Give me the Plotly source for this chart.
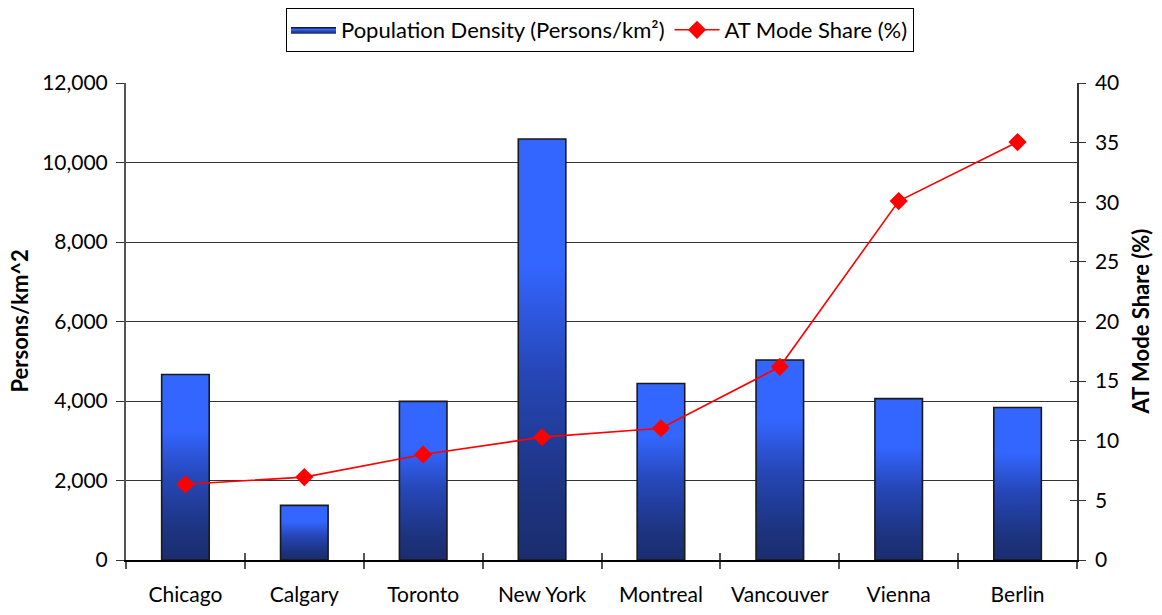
import plotly.graph_objects as go

cities = ["Chicago", "Calgary", "Toronto", "New York", "Montreal", "Vancouver", "Vienna", "Berlin"]
density = [4665, 1375, 3990, 10590, 4440, 5030, 4060, 3835]
at_share = [6.35, 6.95, 8.85, 10.3, 11.05, 16.2, 30.1, 35.05]
left_ticks = [0, 2000, 4000, 6000, 8000, 10000, 12000]
right_ticks = [0, 5, 10, 15, 20, 25, 30, 35, 40]

FONT = "Lato"
BAR_HALF = 0.2
grad = [[0.0, "#1A2D6E"], [0.15, "#1C337E"], [0.45, "#2647B8"], [0.7, "#3366FF"], [1.0, "#3366FF"]]

W, H = 1146, 599  # page body has an 8px margin on every side
ML, MR, MT, MB = 118, 77, 75, 47

fig = go.Figure()
idx = list(range(len(cities)))
for i, v in zip(idx, density):
    fig.add_trace(go.Scatter(
        x=[i - BAR_HALF, i - BAR_HALF, i + BAR_HALF, i + BAR_HALF, i - BAR_HALF],
        y=[0, v, v, 0, 0],
        mode="lines", fill="toself",
        fillgradient=dict(type="vertical", colorscale=grad),
        line=dict(color="#1a1a1a", width=1.6),
        name="Population Density (Persons/km²)",
        showlegend=(i == 0), legendgroup="pd", hoverinfo="skip",
        xaxis="x", yaxis="y",
    ))

fig.add_trace(go.Scatter(
    x=idx, y=at_share, mode="lines+markers",
    line=dict(color="#FF0000", width=1.6),
    marker=dict(symbol="diamond", size=14, color="#FF0000"),
    name="AT Mode Share (%)", xaxis="x", yaxis="y2",
))

plot_w = W - ML - MR
fig.update_layout(
    width=W, height=H,
    margin=dict(l=ML, r=MR, t=MT, b=MB, autoexpand=False),
    paper_bgcolor="white", plot_bgcolor="white",
    font=dict(family=FONT, size=21, color="black"),
    showlegend=True,
    legend=dict(orientation="h", xref="container", yref="container",
                x=592 / W, xanchor="center", y=1, yanchor="top",
                bordercolor="black", borderwidth=1, font=dict(size=22),
                itemwidth=45, tracegroupgap=0),
    xaxis=dict(range=[-0.5, len(cities) - 0.5], tickvals=idx, ticktext=cities,
               ticks="outside", ticklen=0, ticklabelstandoff=15,
               showgrid=False, zeroline=False, showline=True, linecolor="black", linewidth=1.5,
               automargin=False,
               minor=dict(tickvals=[k - 0.5 for k in range(len(cities) + 1)], ticks="outside",
                          ticklen=7, tickcolor="#555", tickwidth=1.5, showgrid=False)),
    xaxis2=dict(range=[-0.5, len(cities) - 0.5], overlaying="x", anchor="y", side="bottom",
                tickvals=[k - 0.5 for k in range(len(cities) + 1)], ticks="inside", ticklen=7,
                tickcolor="#555", tickwidth=1.5, showticklabels=False, showgrid=False,
                zeroline=False, showline=False, automargin=False),
    yaxis=dict(range=[0, 12000], tickvals=left_ticks, tickformat=",",
               ticks="outside", ticklen=8, tickcolor="#333", tickwidth=1, ticklabelstandoff=4,
               showgrid=True, gridcolor="#333", gridwidth=1,
               zeroline=False, showline=True, linecolor="#555", linewidth=2,
               automargin=False),
    yaxis2=dict(range=[0, 40], tickvals=right_ticks, overlaying="y", side="right", anchor="x",
                ticks="outside", ticklen=7, tickcolor="#333", tickwidth=1, ticklabelstandoff=5,
                showgrid=False, zeroline=False, showline=True, linecolor="#333", linewidth=1.5,
                automargin=False),
    yaxis3=dict(range=[0, 40], tickvals=right_ticks, overlaying="y", side="right", anchor="x",
                ticks="inside", ticklen=7, tickcolor="#333", tickwidth=1,
                showticklabels=False, showgrid=False, zeroline=False, showline=False,
                automargin=False),
    annotations=[
        dict(text="<b>Persons/km^2</b>", textangle=-90, showarrow=False,
             xref="paper", yref="paper", x=-(ML - 11) / plot_w, y=0.5,
             xanchor="center", yanchor="middle", font=dict(size=22)),
        dict(text="<b>AT Mode Share (%)</b>", textangle=-90, showarrow=False,
             xref="paper", yref="paper", x=1 + (1132 - (W - MR)) / plot_w, y=0.5,
             xanchor="center", yanchor="middle", font=dict(size=22)),
    ],
)
# dummy trace to activate the overlay tick axes
fig.add_trace(go.Scatter(x=[None], y=[None], xaxis="x2", yaxis="y3", showlegend=False, hoverinfo="skip"))

fig.write_html("out.html")
